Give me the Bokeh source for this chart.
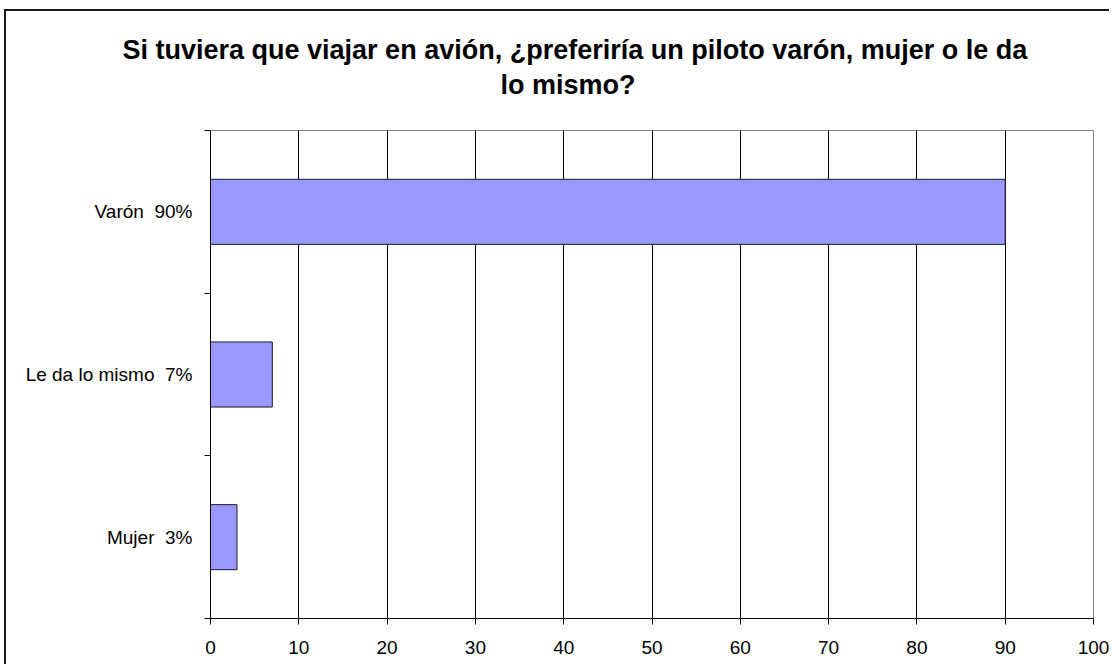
from bokeh.plotting import figure
from bokeh.models import FixedTicker, Title, Range1d
from bokeh.embed import file_html
from bokeh.resources import INLINE

categories = ["Mujer", "Le da lo mismo", "Varón"]
values = [3, 7, 90]
tick_labels = ["Mujer  3%", "Le da lo mismo  7%", "Varón  90%"]
x_ticks = [0, 10, 20, 30, 40, 50, 60, 70, 80, 90, 100]
title_line1 = "Si tuviera que viajar en avión, ¿preferiría un piloto varón, mujer o le da"
title_line2 = "lo mismo?"

FONT = "Liberation Sans"

pos = [i + 0.5 for i in range(len(categories))]
bounds = [float(i) for i in range(len(categories) + 1)]
# keep the double space visible in SVG text
shown_labels = [lab.replace("  ", " \u00a0") for lab in tick_labels]

p = figure(frame_width=883, frame_height=488,
           x_range=Range1d(0, 100), y_range=Range1d(0, len(categories)),
           output_backend="svg", toolbar_location=None, title=None,
           min_border_left=204, min_border_right=16,
           min_border_top=119, min_border_bottom=46)
p.styles = {"margin-left": "4px", "margin-top": "9px",
            "border-left": "2px solid #1a1a1a", "border-top": "2px solid #1a1a1a"}
p.background_fill_color = "white"
p.border_fill_color = "white"
p.outline_line_color = "#808080"
p.outline_line_width = 1

p.hbar(y=pos, right=values, left=0, height=0.4,
       fill_color="#9999FF", line_color="#1a1a2e", line_width=1)

# x axis
p.xaxis.ticker = FixedTicker(ticks=x_ticks)
p.xaxis.axis_line_color = "black"
p.xaxis.major_tick_line_color = "black"
p.xaxis.major_tick_out = 6
p.xaxis.major_tick_in = 0
p.xaxis.minor_tick_line_color = None
p.xaxis.major_label_text_font = FONT
p.xaxis.major_label_text_font_size = "19px"
p.xaxis.major_label_text_color = "black"
p.xaxis.major_label_standoff = 16

# y axis: labels at category centres, ticks at category boundaries
p.yaxis.ticker = FixedTicker(ticks=pos, minor_ticks=bounds)
p.yaxis.major_label_overrides = {pv: lab for pv, lab in zip(pos, shown_labels)}
p.yaxis.axis_line_color = "black"
p.yaxis.major_tick_out = 0
p.yaxis.major_tick_in = 0
p.yaxis.minor_tick_out = 6
p.yaxis.minor_tick_in = 0
p.yaxis.minor_tick_line_color = "black"
p.yaxis.major_label_text_font = FONT
p.yaxis.major_label_text_font_size = "19px"
p.yaxis.major_label_text_color = "black"
p.yaxis.major_label_standoff = 12

# grid
p.xgrid.ticker = FixedTicker(ticks=x_ticks[1:-1])
p.xgrid.grid_line_color = "black"
p.xgrid.grid_line_width = 1
p.ygrid.grid_line_color = None

# titles (first added is closest to the frame)
p.add_layout(Title(text=" ", text_font_size="24px", standoff=0), "above")
p.add_layout(Title(text=title_line2, align="left", offset=290, standoff=3,
                   text_font=FONT, text_font_style="bold", text_font_size="27px",
                   text_color="black"), "above")
p.add_layout(Title(text=title_line1, align="left", offset=-88, standoff=3,
                   text_font=FONT, text_font_style="bold", text_font_size="27px",
                   text_color="black"), "above")

open("out.html", "w").write(file_html(p, INLINE))
